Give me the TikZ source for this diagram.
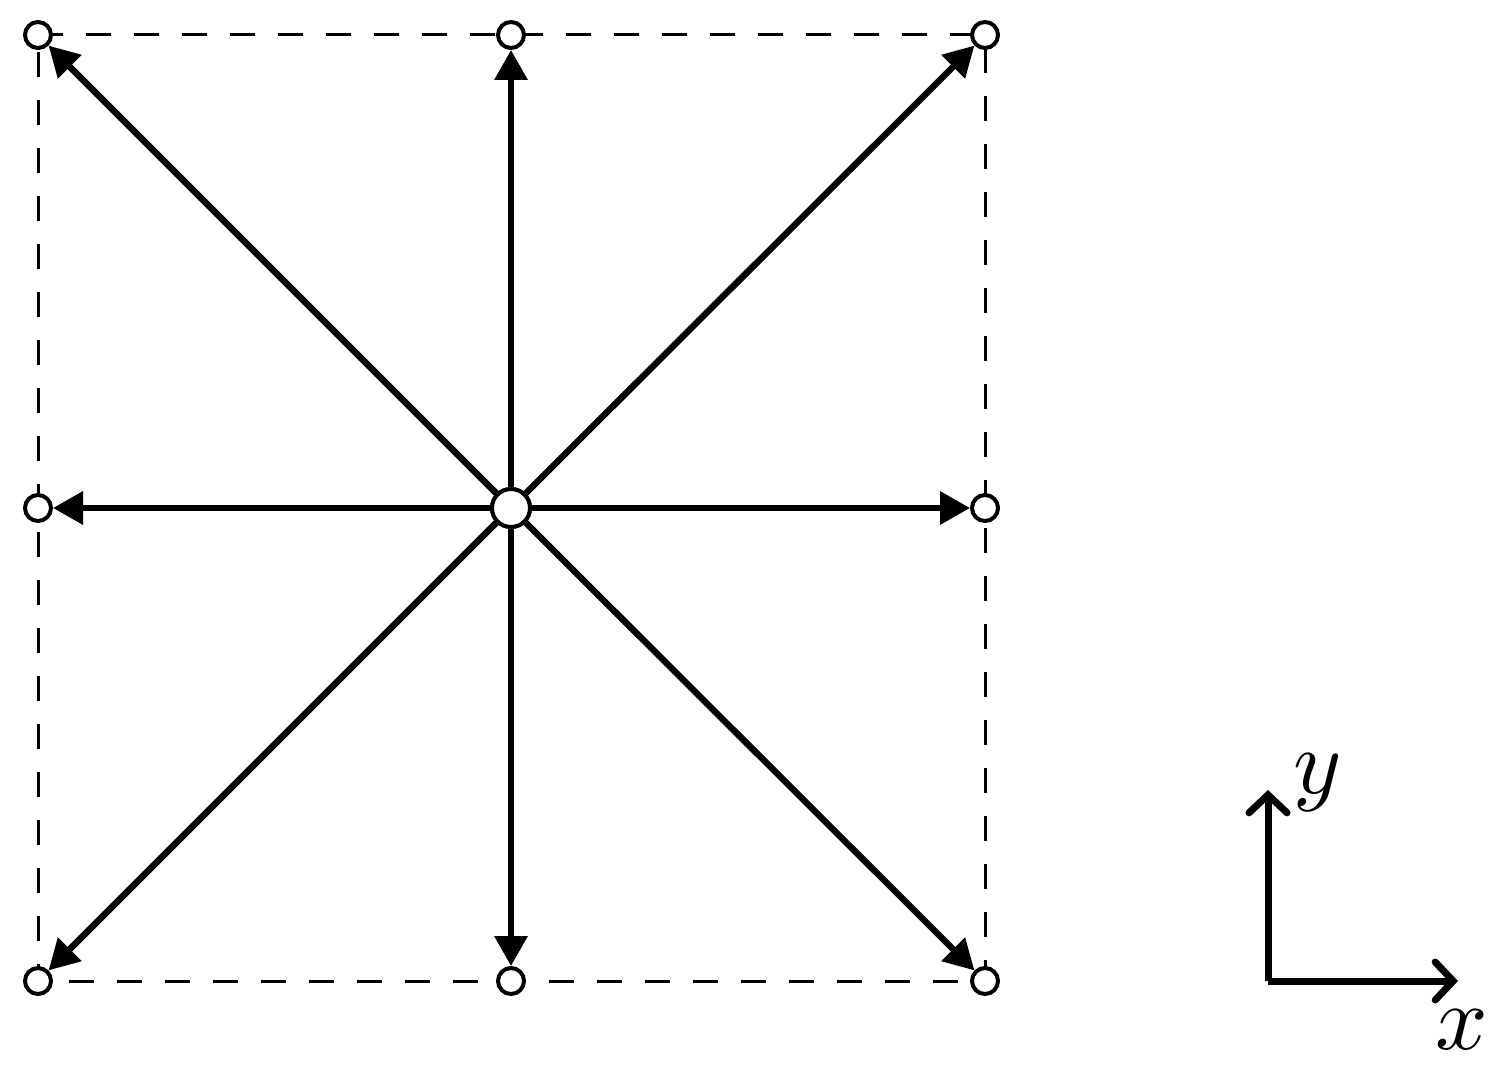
\documentclass[tikz,border=0pt]{standalone}
\usetikzlibrary{arrows.meta}
\begin{document}
\begin{tikzpicture}[x=0.5pt,y=-0.5pt,
  site/.style={circle,draw,line width=2pt,fill=white,minimum size=13pt,inner sep=0pt},
  centre/.style={circle,draw,line width=2pt,fill=white,minimum size=19pt,inner sep=0pt},
  vel/.style={line width=3.2pt,-{Triangle[length=15pt,width=16pt]}},
  frame/.style={line width=1.5pt,dash pattern=on 12.5pt off 11.5pt},
  axis/.style={line width=3.5pt,-{Straight Barb[length=9pt,width=19pt,line cap=round]}},
  lab/.style={inner sep=0pt,scale=4.6}]
\useasboundingbox (0,0) rectangle (1503,1085);
\coordinate (c1) at (38,35);
\coordinate (c2) at (985,35);
\coordinate (c3) at (985,981);
\coordinate (c4) at (38,981);
\draw[frame] (c1) -- (c2) -- (c3) -- (c4) -- cycle;
\node[site] (nw) at (38,35) {};
\node[site] (n) at (511,35) {};
\node[site] (ne) at (985,35) {};
\node[site] (w) at (38,508) {};
\node[site] (e) at (985,508) {};
\node[site] (sw) at (38,981) {};
\node[site] (s) at (511,981) {};
\node[site] (se) at (985,981) {};
\node[centre] (o) at (511,508) {};
\foreach \t in {nw,n,ne,w,e,sw,s,se}
  \draw[vel] (o) -- (\t);
\node[centre] at (o) {};
\coordinate (ax) at (1268,981);
\coordinate (ay) at (1268,790);
\coordinate (axx) at (1458,981);
\draw[axis] (ax) -- (ay);
\draw[axis] (ax) -- (axx);
\node[lab] (ly) at (1318,783) {$y$};
\node[lab] (lx) at (1462,1030) {$x$};
\end{tikzpicture}
\end{document}
